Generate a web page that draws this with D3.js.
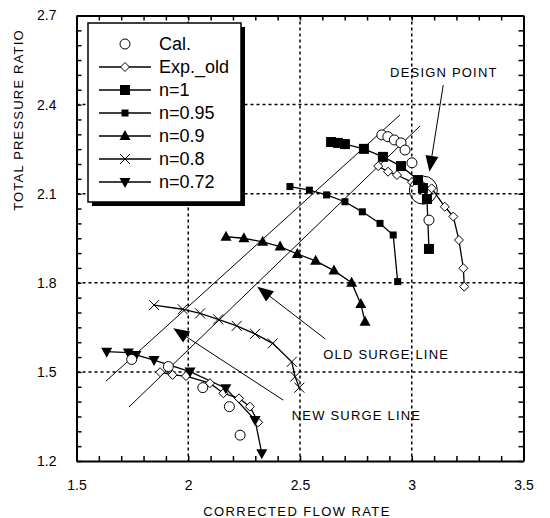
<!DOCTYPE html>
<html><head><meta charset="utf-8">
<script src="https://cdn.jsdelivr.net/npm/d3@7"></script>
<style>body{margin:0;background:#fff} svg{display:block} text{font-family:"Liberation Sans",Arial,sans-serif;fill:#000}</style>
</head><body><svg id="c" width="550" height="518"></svg>
<script>
// ---------- data ----------
const calPts = [[2.866,2.298],[2.893,2.292],[2.922,2.281],[2.952,2.271],[2.970,2.247],[3.001,2.204],[3.077,2.011],
                [1.747,1.542],[1.911,1.518],[2.065,1.447],[2.184,1.383],[2.232,1.287]];
const expTop = [[2.850,2.193],[2.894,2.174],[2.934,2.163],[3.001,2.139],[3.050,2.126],[3.089,2.118],[3.148,2.056],[3.186,2.023],[3.211,1.944],[3.231,1.849],[3.235,1.787]];
const expBottom = [[1.874,1.499],[1.930,1.490],[1.990,1.486],[2.097,1.462],[2.157,1.428],[2.227,1.411],[2.276,1.383],[2.313,1.330]];
const n100 = [[2.639,2.274],[2.670,2.271],[2.701,2.267],[2.786,2.251],[2.871,2.224],[2.952,2.193],[3.028,2.146],[3.050,2.119],[3.068,2.082],[3.077,1.914]];
const n095 = [[2.455,2.124],[2.542,2.112],[2.619,2.096],[2.701,2.073],[2.779,2.039],[2.858,2.000],[2.917,1.961],[2.937,1.804]];
const n090 = [[2.169,1.955],[2.249,1.950],[2.333,1.938],[2.411,1.922],[2.488,1.897],[2.570,1.874],[2.652,1.841],[2.731,1.800],[2.772,1.729],[2.791,1.669]];
const n080 = [[1.847,1.725],[1.975,1.711],[2.053,1.697],[2.134,1.677],[2.217,1.655],[2.299,1.628],[2.378,1.596],[2.463,1.534],[2.478,1.484],[2.497,1.447]];
const n072 = [[1.635,1.568],[1.732,1.565],[1.766,1.557],[1.847,1.540],[2.008,1.501],[2.168,1.445],[2.299,1.338],[2.329,1.226]];
const surgeA = [[1.632,1.469],[2.947,2.365]];
const surgeB = [[1.735,1.382],[3.037,2.328]];
const designPoint = [3.052,2.112];
const arrows = [
  {from:[3.141,2.466], to:[3.079,2.174]},
  {from:[2.613,1.611], to:[2.309,1.787]},
  {from:[2.425,1.405], to:[1.933,1.647]}
];
const notes = [
  {text:"DESIGN POINT", at:[2.903,2.493]},
  {text:"OLD SURGE LINE", at:[2.604,1.543]},
  {text:"NEW SURGE LINE", at:[2.463,1.338]}
];
const xMajor = [1.5,2,2.5,3,3.5];
const yMajor = [1.2,1.5,1.8,2.1,2.4,2.7];
const xGrid = [2,2.5,3];
const yGrid = [1.5,1.8,2.1,2.4];
const legendItems = [
  {label:"Cal.", m:"circle", line:false},
  {label:"Exp._old", m:"diamond", line:true},
  {label:"n=1", m:"bigsquare", line:true},
  {label:"n=0.95", m:"square", line:true},
  {label:"n=0.9", m:"tri", line:true},
  {label:"n=0.8", m:"cross", line:true},
  {label:"n=0.72", m:"tridown", line:true}
];

// ---------- chart ----------
const svg = d3.select("#c");
const x = d3.scaleLinear([1.5,3.5],[76.5,523.5]);
const y = d3.scaleLinear([1.2,2.7],[461,15.5]);
const L=76.5,R=523.5,T=15.5,B=461;

// grid
const g0 = svg.append("g").attr("stroke","#000").attr("stroke-width",1.5).attr("stroke-dasharray","3,3");
xGrid.forEach(v=>g0.append("line").attr("x1",x(v)).attr("x2",x(v)).attr("y1",T).attr("y2",B));
yGrid.forEach(v=>g0.append("line").attr("y1",y(v)).attr("y2",y(v)).attr("x1",L).attr("x2",R));

// axes
const xMinor = d3.range(15,36).map(v=>v/10);
const yMinor = d3.range(24,55).map(v=>v/20);
const isMaj = (v,arr)=>arr.some(a=>Math.abs(a-v)<1e-6);
const fmt = v=> (+v.toFixed(1)).toString();
function styleAxis(g){
  g.select(".domain").attr("stroke-width",2);
  g.selectAll(".tick line").attr("stroke-width",1.5);
  g.selectAll("text").style("font-size","14px").style("font-family","'Liberation Sans',Arial,sans-serif");
}
svg.append("g").attr("transform",`translate(0,${B})`)
  .call(d3.axisBottom(x).tickValues(xMinor).tickSizeInner(-5).tickSizeOuter(0).tickPadding(19)
    .tickFormat(v=>isMaj(v,xMajor)?fmt(v):""))
  .call(styleAxis);
svg.append("g").attr("transform",`translate(0,${T})`)
  .call(d3.axisTop(x).tickValues(xMinor).tickSizeInner(-5).tickSizeOuter(0).tickFormat(""))
  .call(styleAxis);
svg.append("g").attr("transform",`translate(${L},0)`)
  .call(d3.axisLeft(y).tickValues(yMinor).tickSizeInner(-5).tickSizeOuter(0).tickPadding(20)
    .tickFormat(v=>isMaj(v,yMajor)?v.toFixed(1):""))
  .call(styleAxis);
svg.append("g").attr("transform",`translate(${R},0)`)
  .call(d3.axisRight(y).tickValues(yMinor).tickSizeInner(-5).tickSizeOuter(0).tickFormat(""))
  .call(styleAxis);

// axis titles
svg.append("text").attr("x",(L+R)/2-3).attr("y",516).attr("text-anchor","middle")
  .style("font-size","13px").style("letter-spacing","1.4px").text("CORRECTED FLOW RATE");
svg.append("text").attr("transform","translate(23,120) rotate(-90)").attr("text-anchor","middle")
  .style("font-size","13px").style("letter-spacing","1.2px").text("TOTAL PRESSURE RATIO");

// surge lines
const line = d3.line().x(d=>x(d[0])).y(d=>y(d[1]));
[surgeA,surgeB].forEach(s=>svg.append("path").attr("d",line(s)).attr("fill","none").attr("stroke","#000").attr("stroke-width",1));

// series lines
[expTop,expBottom,n100,n095,n090,n080,n072].forEach(s=>
  svg.append("path").attr("d",line(s)).attr("fill","none").attr("stroke","#000").attr("stroke-width",1.3));

// markers
function marker(g,type,cx,cy){
  const t=`translate(${cx},${cy})`;
  switch(type){
    case "circle": g.append("circle").attr("cx",cx).attr("cy",cy).attr("r",5).attr("fill","#fff").attr("stroke","#000").attr("stroke-width",1); break;
    case "diamond": g.append("path").attr("transform",t).attr("d","M0,-4.5L4.5,0L0,4.5L-4.5,0Z").attr("fill","#fff").attr("stroke","#000").attr("stroke-width",1); break;
    case "bigsquare": g.append("rect").attr("x",cx-5).attr("y",cy-5).attr("width",10).attr("height",10).attr("fill","#000"); break;
    case "square": g.append("rect").attr("x",cx-3.5).attr("y",cy-3.5).attr("width",7).attr("height",7).attr("fill","#000"); break;
    case "tri": g.append("path").attr("transform",t).attr("d","M0,-6L5.5,4L-5.5,4Z").attr("fill","#000"); break;
    case "tridown": g.append("path").attr("transform",t).attr("d","M0,6L5.5,-4L-5.5,-4Z").attr("fill","#000"); break;
    case "cross": g.append("path").attr("transform",t).attr("d","M-5,-5L5,5M-5,5L5,-5").attr("stroke","#000").attr("stroke-width",1).attr("fill","none"); break;
  }
}
const gm = svg.append("g");
[[expTop,"diamond"],[expBottom,"diamond"],[n095,"square"],[n090,"tri"],[n080,"cross"],[n072,"tridown"],[n100,"bigsquare"],[calPts,"circle"]]
  .forEach(([s,m])=>s.forEach(d=>marker(gm,m,x(d[0]),y(d[1]))));

// design point circle
svg.append("circle").attr("cx",x(designPoint[0])).attr("cy",y(designPoint[1])).attr("r",14)
  .attr("fill","none").attr("stroke","#000").attr("stroke-width",1);

// arrows
arrows.forEach(a=>{
  const x1=x(a.from[0]),y1=y(a.from[1]),x2=x(a.to[0]),y2=y(a.to[1]);
  const dx=x2-x1,dy=y2-y1,len=Math.hypot(dx,dy),ux=dx/len,uy=dy/len;
  const hl=16,hw=6.5;
  const bx=x2-ux*hl,by=y2-uy*hl;
  svg.append("line").attr("x1",x1).attr("y1",y1).attr("x2",bx).attr("y2",by).attr("stroke","#000").attr("stroke-width",1);
  svg.append("path").attr("d",`M${x2},${y2}L${bx-uy*hw},${by+ux*hw}L${bx+uy*hw},${by-ux*hw}Z`).attr("fill","#000");
});
notes.forEach(n=>svg.append("text").attr("x",x(n.at[0])).attr("y",y(n.at[1]))
  .style("font-size","13px").style("letter-spacing","1.2px").text(n.text));

// legend
const lg = svg.append("g");
const lx=88,ly=23,lw=153,lh=179;
lg.append("rect").attr("x",lx+4).attr("y",ly+4).attr("width",lw).attr("height",lh).attr("fill","#000");
lg.append("rect").attr("x",lx).attr("y",ly).attr("width",lw).attr("height",lh).attr("fill","#fff").attr("stroke","#000").attr("stroke-width",1.5);
legendItems.forEach((it,i)=>{
  const cy = 44 + i*23;
  if(it.line) lg.append("line").attr("x1",99).attr("x2",151).attr("y1",cy).attr("y2",cy).attr("stroke","#000").attr("stroke-width",1.3);
  marker(lg,it.m,125,cy);
  lg.append("text").attr("x",159).attr("y",cy).attr("dy","0.36em").style("font-size","18px").text(it.label);
});
</script></body></html>
